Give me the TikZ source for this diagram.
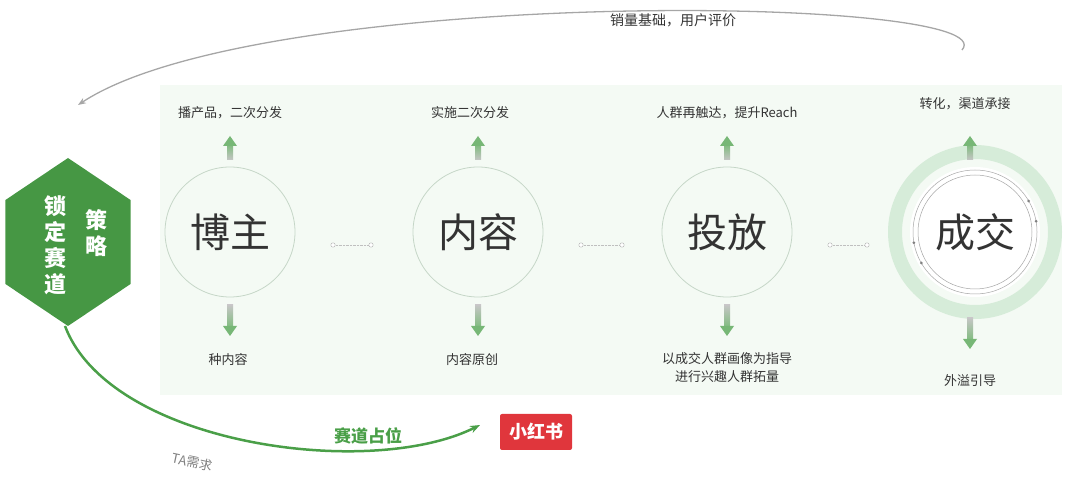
\documentclass[tikz,border=0pt]{standalone}
\usepackage{fontspec}
\setmainfont{Noto Sans CJK SC}
\usetikzlibrary{arrows.meta,shapes.geometric,calc}
\definecolor{gr}{HTML}{4A9F48}
\definecolor{lgr}{HTML}{D6ECD9}
\definecolor{bg}{HTML}{F4FAF4}
\definecolor{txt}{HTML}{333333}
\definecolor{xred}{HTML}{E0363C}
\tikzset{
 big/.style={circle,draw=lgr!80!gray,line width=0.8pt,minimum size=130pt,font=\fontsize{40}{40}\selectfont,text=txt},
 lab/.style={font=\fontsize{13}{16}\selectfont,text=txt,align=center},
}
\begin{document}
\begin{tikzpicture}[x=1pt,y=-1pt]
\useasboundingbox (0,0) rectangle (1080,478);
\fill[bg] (160,85) rectangle (1062,395);
% top arc
\coordinate (ts) at (962,50);
\coordinate (te) at (78,105);
\draw[gray!70,line width=1.3pt,-{Stealth[length=8pt]}] (ts) .. controls (1010,-5) and (260,-15) .. (te);
\node[lab,font=\fontsize{14}{16}\selectfont] (tl) at (673,20) {销量基础，用户评价};
% circles
\node[big] (c1) at (230,232) {博主};
\node[big] (c2) at (478,232) {内容};
\node[big] (c3) at (727,232) {投放};
\draw[lgr,line width=14pt] (975,232) circle (80);
\node[big,draw=none,fill=white] (c4) at (975,232) {成交};
\draw[gray!70,line width=0.5pt] (975,232) circle (62);
\draw[gray!70,line width=0.5pt] (975,232) circle (57);
\foreach \a in {150,170,-10,-30} \fill[gray] ($(975,232)+(\a:62)$) circle (1.5);
% connectors
\foreach \xa/\xb [count=\i] in {333/371,581/622,830/867}{
 \coordinate (d\i a) at (\xa,245); \coordinate (d\i b) at (\xb,245);
 \draw[gray!50,densely dotted] (d\i a) -- (d\i b);
 \draw[gray!60,fill=white] (d\i a) circle (2.2); \draw[gray!60,fill=white] (d\i b) circle (2.2);}
% up arrows
\foreach \x in {230,478,727,970}{
 \shade[bottom color=gray!45,top color=gr!70] (\x-3,160) rectangle (\x+3,145);
 \fill[gr!75] (\x-7,146) -- (\x+7,146) -- (\x,136) -- cycle;}
\foreach \x in {230,478,727,970}{
 \pgfmathsetmacro{\ys}{\x>900?318:305}
 \shade[top color=gray!45,bottom color=gr!70] (\x-3,\ys) rectangle (\x+3,\ys+22);
 \fill[gr!75] (\x-7,\ys+21) -- (\x+7,\ys+21) -- (\x,\ys+31) -- cycle;}
\node[lab] (u1) at (230,113) {播产品，二次分发};
\node[lab] (u2) at (470,113) {实施二次分发};
\node[lab] (u3) at (727,113) {人群再触达，提升Reach};
\node[lab] (u4) at (965,104) {转化，渠道承接};
\node[lab] (l1) at (228,360) {种内容};
\node[lab] (l2) at (472,360) {内容原创};
\node[lab,font=\fontsize{13}{18}\selectfont] (l3) at (727,368) {以成交人群画像为指导\\进行兴趣人群拓量};
\node[lab] (l4) at (970,381) {外溢引导};
% hexagon
\node[regular polygon,regular polygon sides=6,shape border rotate=30,fill=gr!95!black,minimum size=168pt,inner sep=0pt,xscale=0.86] (hx) at (68,242) {};
\node[font=\fontsize{22}{26}\selectfont\bfseries,text=white,align=center] (h1) at (55,245) {锁\\定\\赛\\道};
\node[font=\fontsize{22}{26}\selectfont\bfseries,text=white,align=center] (h2) at (96,233) {策\\略};
% green curve
\coordinate (gs) at (65,326);
\draw[gr,line width=2.5pt,-{Stealth[length=10pt]}] (gs) .. controls (110,445) and (370,480) .. (480,425);
\node[font=\fontsize{17}{20}\selectfont\bfseries,text=gr] (g1) at (368,436) {赛道占位};
\node[font=\fontsize{13}{16}\selectfont,text=gray,rotate=-12] (g2) at (192,462) {TA需求};
\node[fill=xred,rounded corners=2pt,minimum width=72pt,minimum height=36pt,text=white,font=\fontsize{18}{20}\selectfont\bfseries] (x) at (536,432) {小红书};
\end{tikzpicture}
\end{document}
